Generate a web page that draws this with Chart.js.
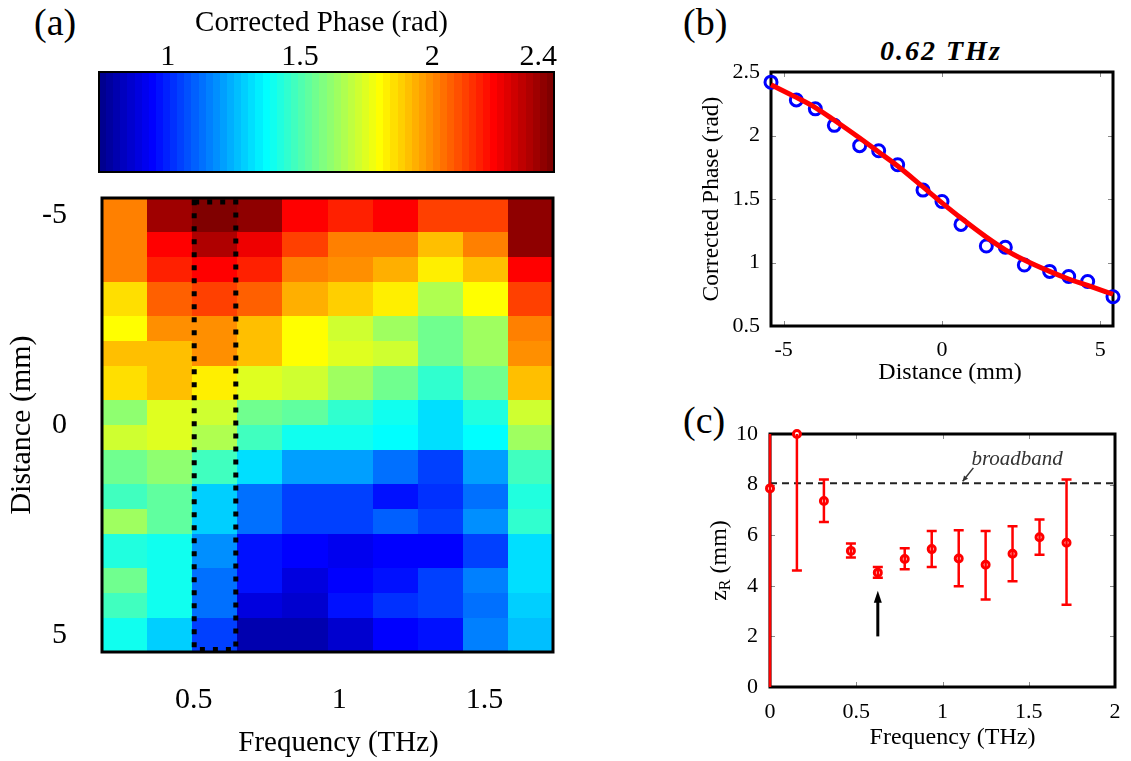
<!DOCTYPE html>
<html>
<head>
<meta charset="utf-8">
<script src="https://cdn.jsdelivr.net/npm/chart.js@4.4.1/dist/chart.umd.min.js"></script>
<style>
  html, body { margin: 0; padding: 0; background: #fff; }
  body { width: 1131px; height: 761px; position: relative; overflow: hidden;
         font-family: "Liberation Serif", "Times New Roman", serif; color: #000; }
  canvas { position: absolute; }
  .tag { position: absolute; font-size: 38px; line-height: 38px; }
  .ptitle { position: absolute; font-size: 28px; line-height: 28px; font-weight: bold;
            font-style: italic; letter-spacing: 2px; white-space: nowrap; transform: translateX(-50%); }
</style>
</head>
<body>
<div class="tag" style="left:34px; top:3px;">(a)</div>
<div class="tag" style="left:683px; top:3px;">(b)</div>
<div class="tag" style="left:683px; top:401px;">(c)</div>
<div class="ptitle" style="left:941px; top:37px;">0.62 THz</div>

<canvas id="cbar" width="575" height="185" style="left:0; top:0;"></canvas>
<canvas id="heat" width="575" height="571" style="left:0; top:190px;"></canvas>
<canvas id="fitb" width="451" height="350" style="left:680px; top:40px;"></canvas>
<canvas id="zrc" width="451" height="361" style="left:680px; top:400px;"></canvas>

<script>
// ---------------- data ----------------
// (a) corrected phase map: rows follow the distance grid, columns the frequency bins
const distances = [-5.4, -4.6, -4.0, -3.4, -2.6, -2.0, -1.4, -0.6, 0, 0.6, 1.4, 2.0, 2.6, 3.4, 4.0, 4.6, 5.4];
const freqEdges = [0.185, 0.34, 0.495, 0.65, 0.805, 0.96, 1.115, 1.27, 1.425, 1.58, 1.735];
const phaseMap = [
  [2.01, 2.39, 2.46, 2.41, 2.23, 2.19, 2.22, 2.12, 2.13, 2.43],
  [2.01, 2.23, 2.37, 2.27, 2.12, 2.03, 2.03, 1.90, 2.01, 2.41],
  [2.01, 2.19, 2.23, 2.19, 2.03, 1.98, 1.94, 1.84, 1.90, 2.22],
  [1.86, 2.08, 2.13, 2.08, 1.94, 1.88, 1.82, 1.68, 1.79, 2.13],
  [1.79, 1.98, 1.98, 1.92, 1.79, 1.73, 1.64, 1.55, 1.64, 2.03],
  [1.92, 1.92, 1.98, 1.90, 1.79, 1.76, 1.71, 1.55, 1.64, 1.98],
  [1.86, 1.90, 1.84, 1.76, 1.71, 1.65, 1.57, 1.46, 1.57, 1.92],
  [1.61, 1.75, 1.71, 1.57, 1.52, 1.46, 1.39, 1.32, 1.43, 1.72],
  [1.73, 1.76, 1.67, 1.49, 1.39, 1.39, 1.36, 1.31, 1.36, 1.65],
  [1.57, 1.61, 1.49, 1.31, 1.22, 1.20, 1.14, 1.06, 1.22, 1.49],
  [1.49, 1.52, 1.30, 1.14, 1.06, 1.04, 0.98, 1.01, 1.14, 1.43],
  [1.64, 1.52, 1.30, 1.14, 1.06, 1.06, 1.09, 1.06, 1.19, 1.46],
  [1.43, 1.41, 1.19, 0.98, 0.93, 0.92, 0.93, 0.93, 1.06, 1.32],
  [1.55, 1.39, 1.12, 0.96, 0.90, 0.93, 0.96, 1.06, 1.17, 1.32],
  [1.49, 1.39, 1.12, 0.90, 0.87, 0.96, 1.01, 1.06, 1.12, 1.28],
  [1.41, 1.30, 1.04, 0.81, 0.81, 0.87, 0.93, 0.98, 1.17, 1.26]
];
const phaseRange = [0.74, 2.46];
const colorbarTicks = [1, 1.5, 2, 2.4];
const freqTicks = [0.5, 1, 1.5];
const distTicks = [-5, 0, 5];
const selectedBand = [0.495, 0.65];

// (b) phase vs distance at 0.62 THz
const phaseMeasured = [2.42, 2.28, 2.21, 2.08, 1.92, 1.88, 1.77, 1.57, 1.48, 1.30, 1.13, 1.12, 0.98, 0.93, 0.89, 0.85, 0.73];
const phaseFitted   = [2.40, 2.30, 2.22, 2.12, 1.98, 1.87, 1.76, 1.595, 1.47, 1.35, 1.20, 1.10, 1.02, 0.93, 0.87, 0.82, 0.75];
const phaseTicks = [0.5, 1, 1.5, 2, 2.5];

// (c) Rayleigh range vs frequency
const zrFreqs = [0, 0.156, 0.3125, 0.469, 0.625, 0.781, 0.9375, 1.094, 1.25, 1.406, 1.5625, 1.719];
const zrValues = [7.85, 10.0, 7.35, 5.38, 4.52, 5.06, 5.45, 5.08, 4.83, 5.27, 5.92, 5.70];
const zrLower  = [-1, 4.6, 6.52, 5.12, 4.32, 4.65, 4.74, 3.98, 3.46, 4.18, 5.23, 3.25];
const zrUpper  = [12, 12, 8.2, 5.67, 4.74, 5.48, 6.17, 6.2, 6.17, 6.35, 6.62, 8.2];
const broadbandZr = 8.05;
const zrFreqTicks = [0, 0.5, 1, 1.5, 2];
const zrTicks = [0, 2, 4, 6, 8, 10];

// ---------------- helpers ----------------
const SERIF = '"Liberation Serif", "Times New Roman", serif';
Chart.defaults.font.family = SERIF;
Chart.defaults.color = '#000';
Chart.defaults.animation = false;

// 64-level jet colour table
function jet64(k) {
  const u = i => (i < 1 || i > 47) ? 0 : (i <= 16 ? i / 16 : (i <= 31 ? 1 : (48 - i) / 16));
  const r = u(k - 24), g = u(k - 8), b = u(k + 8);
  return 'rgb(' + Math.round(r * 255) + ',' + Math.round(g * 255) + ',' + Math.round(b * 255) + ')';
}
function phaseColor(v) {
  let k = Math.floor((v - phaseRange[0]) / (phaseRange[1] - phaseRange[0]) * 64) + 1;
  k = Math.max(1, Math.min(64, k));
  return jet64(k);
}
const fixedTicks = arr => scale => { scale.ticks = arr.map(v => ({ value: v })); };
// fixes the size of an axis box and drops the extra label padding Chart.js would reserve
const boxSize = (w, h) => s => {
  if (w !== null) s.width = w;
  if (h !== null) s.height = h;
  s.paddingLeft = 0; s.paddingRight = 0; s.paddingTop = 0; s.paddingBottom = 0;
};
const noGrid = { display: false, drawTicks: false };
const noBorder = { display: false };

// horizontal axis caption, centred on the plot area with a small shift
const captionPlugin = {
  id: 'caption',
  afterDraw(chart, args, o) {
    if (!o || !o.text) return;
    const { ctx, chartArea: a } = chart;
    ctx.save();
    ctx.font = o.size + 'px ' + SERIF;
    ctx.fillStyle = '#000';
    ctx.textAlign = 'center';
    ctx.textBaseline = 'middle';
    ctx.fillText(o.text, (a.left + a.right) / 2 + o.dx, o.y);
    ctx.restore();
  }
};

// ---------------- colour bar ----------------
const colorbarPlugin = {
  id: 'colorbarBands',
  beforeDatasetsDraw(chart) {
    const { ctx, chartArea: a, scales: { x } } = chart;
    const step = (phaseRange[1] - phaseRange[0]) / 64;
    for (let k = 1; k <= 64; k++) {
      const x0 = Math.round(x.getPixelForValue(phaseRange[0] + (k - 1) * step));
      const x1 = Math.round(x.getPixelForValue(phaseRange[0] + k * step));
      ctx.fillStyle = jet64(k);
      ctx.fillRect(x0, a.top, x1 - x0, a.height);
    }
    ctx.save();
    ctx.strokeStyle = '#000';
    ctx.lineWidth = 2;
    ctx.strokeRect(a.left, a.top, a.width, a.height);
    ctx.restore();
  }
};

new Chart(document.getElementById('cbar'), {
  type: 'scatter',
  data: { datasets: [{ data: [] }] },
  plugins: [colorbarPlugin, captionPlugin],
  options: {
    responsive: false,
    layout: { autoPadding: false, padding: { left: 99, right: 21, top: 0, bottom: 13 } },
    plugins: { legend: { display: false }, tooltip: { enabled: false },
               caption: { text: 'Corrected Phase (rad)', size: 29, dx: -5, y: 23 } },
    scales: {
      x: {
        type: 'linear', position: 'top', min: phaseRange[0], max: phaseRange[1],
        afterBuildTicks: fixedTicks(colorbarTicks),
        afterFit: boxSize(null, 72),
        grid: noGrid, border: noBorder,
        ticks: { padding: 0, maxRotation: 0, autoSkip: false, font: { size: 30, lineHeight: 1 },
                 callback: v => String(v) },
        title: { display: false }
      },
      y: { display: false, min: 0, max: 1 }
    }
  }
});

// ---------------- (a) heat map ----------------
const heatmapPlugin = {
  id: 'phaseCells',
  beforeDatasetsDraw(chart) {
    const { ctx, scales: { x, y } } = chart;
    for (let r = 0; r < phaseMap.length; r++) {
      const y0 = Math.round(y.getPixelForValue(distances[r]));
      const y1 = Math.round(y.getPixelForValue(distances[r + 1]));
      for (let c = 0; c < phaseMap[r].length; c++) {
        const x0 = Math.round(x.getPixelForValue(freqEdges[c]));
        const x1 = Math.round(x.getPixelForValue(freqEdges[c + 1]));
        ctx.fillStyle = phaseColor(phaseMap[r][c]);
        ctx.fillRect(x0, y0, x1 - x0, y1 - y0);
      }
    }
  },
  afterDatasetsDraw(chart) {
    const { ctx, chartArea: a, scales: { x } } = chart;
    ctx.save();
    // dotted outline around the selected frequency bin
    const bx0 = x.getPixelForValue(selectedBand[0]) + 2;
    const bx1 = x.getPixelForValue(selectedBand[1]) - 1.5;
    ctx.strokeStyle = '#000';
    ctx.lineWidth = 5;
    ctx.setLineDash([5, 8]);
    ctx.strokeRect(bx0, a.top + 4, bx1 - bx0, a.height - 6.5);
    ctx.setLineDash([]);
    ctx.lineWidth = 3;
    ctx.strokeRect(a.left, a.top, a.width, a.height);
    ctx.restore();
  }
};

new Chart(document.getElementById('heat'), {
  type: 'scatter',
  data: { datasets: [{ data: [] }] },
  plugins: [heatmapPlugin, captionPlugin],
  options: {
    responsive: false,
    layout: { autoPadding: false, padding: { left: 0, right: 22, top: 8, bottom: 0 } },
    plugins: { legend: { display: false }, tooltip: { enabled: false },
               caption: { text: 'Frequency (THz)', size: 29, dx: 11, y: 553 } },
    scales: {
      x: {
        type: 'linear', min: freqEdges[0], max: freqEdges[freqEdges.length - 1],
        afterBuildTicks: fixedTicks(freqTicks),
        afterFit: boxSize(null, 109),
        grid: noGrid, border: noBorder,
        ticks: { padding: 33, maxRotation: 0, autoSkip: false, font: { size: 30, lineHeight: 1 },
                 callback: v => String(v) },
        title: { display: false }
      },
      y: {
        type: 'linear', reverse: true, min: distances[0], max: distances[distances.length - 1],
        afterBuildTicks: fixedTicks(distTicks),
        afterFit: boxSize(102, null),
        grid: noGrid, border: noBorder,
        ticks: { padding: 35, autoSkip: false, font: { size: 30, lineHeight: 1 },
                 callback: v => String(v) },
        title: { display: true, text: 'Distance (mm)', font: { size: 30, lineHeight: 1 },
                 padding: { top: 7, bottom: 0 } }
      }
    }
  }
});

// ---------------- shared axes box with inward ticks ----------------
const axesBoxPlugin = {
  id: 'axesBox',
  beforeDatasetsDraw(chart) {
    const { ctx, chartArea: a, scales: { x, y } } = chart;
    const L = 5;
    ctx.save();
    ctx.strokeStyle = '#8a8a8a';
    ctx.lineWidth = 1;
    ctx.beginPath();
    x.ticks.forEach(t => {
      const p = Math.round(x.getPixelForValue(t.value)) + 0.5;
      ctx.moveTo(p, a.bottom); ctx.lineTo(p, a.bottom - L);
      ctx.moveTo(p, a.top); ctx.lineTo(p, a.top + L);
    });
    y.ticks.forEach(t => {
      const p = Math.round(y.getPixelForValue(t.value)) + 0.5;
      ctx.moveTo(a.left, p); ctx.lineTo(a.left + L, p);
      ctx.moveTo(a.right, p); ctx.lineTo(a.right - L, p);
    });
    ctx.stroke();
    ctx.strokeStyle = '#000';
    ctx.lineWidth = 3;
    ctx.strokeRect(a.left, a.top, a.width, a.height);
    ctx.restore();
  }
};

// ---------------- (b) phase vs distance ----------------
new Chart(document.getElementById('fitb'), {
  type: 'scatter',
  data: {
    datasets: [
      {
        data: distances.map((d, i) => ({ x: d, y: phaseFitted[i] })),
        showLine: true, borderColor: '#ff0000', borderWidth: 5, pointRadius: 0,
        cubicInterpolationMode: 'monotone', clip: 4
      },
      {
        data: distances.map((d, i) => ({ x: d, y: phaseMeasured[i] })),
        showLine: false, pointStyle: 'circle', pointRadius: 6, borderWidth: 3,
        borderColor: '#0000ff', backgroundColor: 'rgba(0,0,0,0)', clip: false
      }
    ]
  },
  plugins: [axesBoxPlugin, captionPlugin],
  options: {
    responsive: false,
    layout: { autoPadding: false, padding: { left: 0, right: 18, top: 32, bottom: 0 } },
    plugins: { legend: { display: false }, tooltip: { enabled: false },
               caption: { text: 'Distance (mm)', size: 24, dx: 8, y: 333 } },
    scales: {
      x: {
        type: 'linear', min: distances[0], max: distances[distances.length - 1],
        afterBuildTicks: fixedTicks(distTicks),
        afterFit: boxSize(null, 64),
        grid: noGrid, border: noBorder,
        ticks: { padding: 13, maxRotation: 0, autoSkip: false, font: { size: 22, lineHeight: 1 },
                 callback: v => String(v) },
        title: { display: false }
      },
      y: {
        type: 'linear', min: 0.5, max: 2.5,
        afterBuildTicks: fixedTicks(phaseTicks),
        afterFit: boxSize(91, null),
        grid: noGrid, border: noBorder,
        ticks: { padding: 11, autoSkip: false, font: { size: 22, lineHeight: 1 },
                 callback: v => String(v) },
        title: { display: true, text: 'Corrected Phase (rad)', font: { size: 23.5, lineHeight: 1 },
                 padding: { top: 20, bottom: 0 } }
      }
    }
  }
});

// ---------------- (c) Rayleigh range ----------------
const errorBarPlugin = {
  id: 'zrErrorBars',
  afterDatasetsDraw(chart) {
    const { ctx, chartArea: a, scales: { x, y } } = chart;
    ctx.save();
    ctx.beginPath();
    ctx.rect(a.left - 3, a.top, a.width + 6, a.height);
    ctx.clip();
    ctx.strokeStyle = '#ff0000';
    ctx.lineWidth = 2.5;
    const cap = 5;
    ctx.beginPath();
    zrFreqs.forEach((f, i) => {
      const px = x.getPixelForValue(f);
      const lo = y.getPixelForValue(zrLower[i]);
      const hi = y.getPixelForValue(zrUpper[i]);
      ctx.moveTo(px, lo); ctx.lineTo(px, hi);
      ctx.moveTo(px - cap, lo); ctx.lineTo(px + cap, lo);
      ctx.moveTo(px - cap, hi); ctx.lineTo(px + cap, hi);
    });
    ctx.stroke();
    ctx.restore();
  }
};

const zrNotesPlugin = {
  id: 'zrNotes',
  afterDatasetsDraw(chart) {
    const { ctx, chartArea: a, scales: { x, y } } = chart;
    ctx.save();
    // label of the broadband reference line
    ctx.fillStyle = '#333';
    ctx.font = 'italic 21px ' + SERIF;
    ctx.textAlign = 'left';
    ctx.textBaseline = 'alphabetic';
    ctx.fillText('broadband', x.getPixelForValue(1.168), y.getPixelForValue(8.76));
    // small pointer from the label to the dashed line
    const sx0 = x.getPixelForValue(1.179), sy0 = y.getPixelForValue(8.66);
    const sx1 = x.getPixelForValue(1.117), sy1 = y.getPixelForValue(8.13);
    ctx.strokeStyle = '#333';
    ctx.lineWidth = 1.5;
    ctx.beginPath(); ctx.moveTo(sx0, sy0); ctx.lineTo(sx1, sy1); ctx.stroke();
    const ang = Math.atan2(sy1 - sy0, sx1 - sx0);
    ctx.beginPath();
    ctx.moveTo(sx1, sy1);
    ctx.lineTo(sx1 - 6 * Math.cos(ang - 0.45), sy1 - 6 * Math.sin(ang - 0.45));
    ctx.lineTo(sx1 - 6 * Math.cos(ang + 0.45), sy1 - 6 * Math.sin(ang + 0.45));
    ctx.closePath(); ctx.fillStyle = '#333'; ctx.fill();
    // arrow marking the selected frequency
    const ax = x.getPixelForValue(zrFreqs[4]);
    const ay0 = y.getPixelForValue(2.0), ay1 = y.getPixelForValue(3.8);
    ctx.strokeStyle = '#000';
    ctx.fillStyle = '#000';
    ctx.lineWidth = 3;
    ctx.beginPath(); ctx.moveTo(ax, ay0); ctx.lineTo(ax, ay1 + 10); ctx.stroke();
    ctx.beginPath();
    ctx.moveTo(ax, ay1); ctx.lineTo(ax - 4, ay1 + 12); ctx.lineTo(ax + 4, ay1 + 12);
    ctx.closePath(); ctx.fill();
    // y-axis title with subscript
    const cx = 40, cy = (a.top + a.bottom) / 2;
    ctx.translate(cx, cy);
    ctx.rotate(-Math.PI / 2);
    ctx.fillStyle = '#000';
    ctx.textBaseline = 'middle';
    ctx.textAlign = 'left';
    const big = '24px ' + SERIF, small = '16px ' + SERIF;
    ctx.font = big; const wz = ctx.measureText('z').width; const wr = ctx.measureText(' (mm)').width;
    ctx.font = small; const ws = ctx.measureText('R').width;
    let px = -(wz + ws + wr) / 2;
    ctx.font = big; ctx.fillText('z', px, 0); px += wz;
    ctx.font = small; ctx.fillText('R', px, 6); px += ws;
    ctx.font = big; ctx.fillText(' (mm)', px, 0);
    ctx.restore();
  }
};

new Chart(document.getElementById('zrc'), {
  type: 'scatter',
  data: {
    datasets: [
      {
        data: zrFreqs.map((f, i) => ({ x: f, y: zrValues[i] })),
        showLine: false, pointStyle: 'circle', pointRadius: 3.5, borderWidth: 3,
        borderColor: '#ff0000', backgroundColor: '#ffffff', clip: false
      },
      {
        data: [{ x: zrFreqTicks[0], y: broadbandZr }, { x: zrFreqTicks[zrFreqTicks.length - 1], y: broadbandZr }],
        showLine: true, borderColor: '#222', borderWidth: 2, borderDash: [7, 5], pointRadius: 0
      }
    ]
  },
  plugins: [axesBoxPlugin, errorBarPlugin, zrNotesPlugin, captionPlugin],
  options: {
    responsive: false,
    layout: { autoPadding: false, padding: { left: 0, right: 16, top: 34, bottom: 0 } },
    plugins: { legend: { display: false }, tooltip: { enabled: false },
               caption: { text: 'Frequency (THz)', size: 24, dx: 10, y: 337.5 } },
    scales: {
      x: {
        type: 'linear', min: 0, max: 2,
        afterBuildTicks: fixedTicks(zrFreqTicks),
        afterFit: boxSize(null, 74),
        grid: noGrid, border: noBorder,
        ticks: { padding: 14, maxRotation: 0, autoSkip: false, font: { size: 22, lineHeight: 1 },
                 callback: v => String(v) },
        title: { display: false }
      },
      y: {
        type: 'linear', min: 0, max: 10,
        afterBuildTicks: fixedTicks(zrTicks),
        afterFit: boxSize(90, null),
        grid: noGrid, border: noBorder,
        ticks: { padding: 12, autoSkip: false, font: { size: 22, lineHeight: 1 },
                 callback: v => String(v) },
        title: { display: false }
      }
    }
  }
});
</script>
</body>
</html>
